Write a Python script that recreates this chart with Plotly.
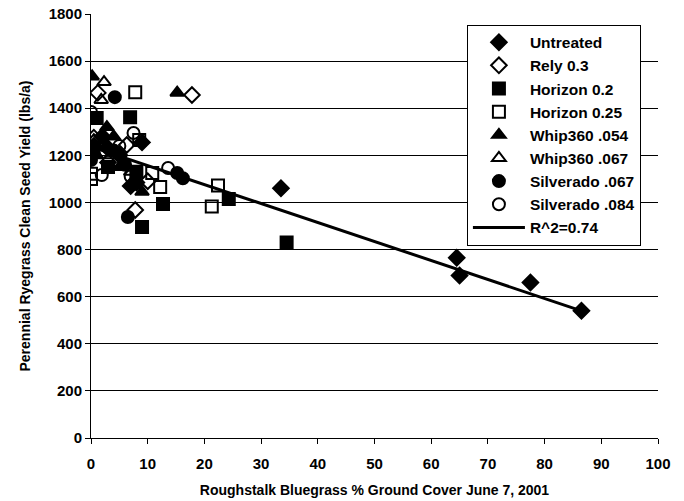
import plotly.graph_objects as go

# Roughstalk bluegrass ground cover (%) vs. perennial ryegrass clean seed yield (lbs/a)
untreated_x = [0.5, 2.0, 3.0, 5.0, 7.0, 8.0, 9.0, 33.5, 64.5, 65.0, 77.5, 86.5]
untreated_y = [1240, 1280, 1230, 1200, 1070, 1085, 1255, 1060, 765, 690, 660, 540]

rely_x = [1.2, 17.8, 6.3, 7.8, 0.5, 3.0, 10.0]
rely_y = [1465, 1456, 1244, 968, 1275, 1170, 1090]

horizon02_x = [1.0, 6.9, 3.0, 9.0, 12.7, 24.3, 34.5, 8.0]
horizon02_y = [1358, 1362, 1150, 896, 993, 1015, 830, 1130]

horizon025_x = [7.8, 0.0, 0.0, 10.8, 12.2, 22.4, 21.3, 8.5]
horizon025_y = [1468, 1100, 1122, 1125, 1066, 1072, 983, 1265]

whip054_x = [0.2, 15.2, 2.8, 9.0, 5.0, 1.0, 4.0]
whip054_y = [1535, 1466, 1320, 1045, 1150, 1200, 1280]

whip067_x = [2.3, 1.8, 0.5, 3.5, 7.0]
whip067_y = [1511, 1435, 1265, 1200, 1130]

silv067_x = [4.2, 16.2, 15.2, 6.5, 0.0, 0.5, 4.0, 6.0]
silv067_y = [1447, 1103, 1125, 938, 1180, 1210, 1220, 1160]

silv084_x = [0.0, 7.5, 13.6, 1.9, 0.0, 7.0, 5.0]
silv084_y = [1384, 1295, 1146, 1116, 1220, 1110, 1240]

# Linear trend line endpoints
trend_x = [0.0, 86.5]
trend_y = [1237, 540]
trend_label = "R^2=0.74"

x_ticks = list(range(0, 101, 10))
y_ticks = list(range(0, 1801, 200))

series = [
    ("Untreated", untreated_x, untreated_y, "diamond"),
    ("Rely 0.3", rely_x, rely_y, "diamond-open"),
    ("Horizon 0.2", horizon02_x, horizon02_y, "square"),
    ("Horizon 0.25", horizon025_x, horizon025_y, "square-open"),
    ("Whip360 .054", whip054_x, whip054_y, "triangle-up"),
    ("Whip360 .067", whip067_x, whip067_y, "triangle-up-open"),
    ("Silverado .067", silv067_x, silv067_y, "circle"),
    ("Silverado .084", silv084_x, silv084_y, "circle-open"),
]

fig = go.Figure()
for name, xs, ys, sym in series:
    fig.add_trace(go.Scatter(
        x=xs, y=ys, mode="markers", name=name,
        marker=dict(symbol=sym, size=12, color="black",
                    line=dict(color="black", width=2)),
    ))

fig.add_trace(go.Scatter(
    x=trend_x, y=trend_y, mode="lines", name=trend_label,
    line=dict(color="black", width=3),
))

font_family = "Liberation Sans, Arial, sans-serif"
bold = dict(family=font_family, weight="bold", color="black")

fig.update_layout(
    width=684, height=501,
    margin=dict(l=91, r=26, t=14, b=63),
    paper_bgcolor="white", plot_bgcolor="white",
    font=dict(family=font_family, size=14, color="black"),
    legend=dict(
        x=0.663, y=0.975, xanchor="left", yanchor="top",
        bgcolor="white", bordercolor="black", borderwidth=1,
        font=dict(size=15.5, **bold), tracegroupgap=0, itemwidth=52,
    ),
    xaxis=dict(
        range=[0, 100], tickvals=x_ticks, showgrid=False, zeroline=False,
        showline=True, linecolor="black", linewidth=1, automargin=False,
        ticks="outside", ticklen=5, tickcolor="black",
        tickfont=dict(size=15, **bold), ticklabelstandoff=7,
        title=dict(text="Roughstalk Bluegrass % Ground Cover June 7, 2001",
                   font=dict(size=14, **bold), standoff=14),
    ),
    yaxis=dict(
        range=[0, 1800], tickvals=y_ticks, showgrid=True,
        gridcolor="black", gridwidth=1, zeroline=False,
        showline=True, linecolor="black", linewidth=1, automargin=False,
        ticks="outside", ticklen=5, tickcolor="black",
        tickfont=dict(size=15, **bold),
        title=dict(text="Perennial Ryegrass Clean Seed Yield (lbs/a)",
                   font=dict(size=14, **bold), standoff=14),
    ),
)

fig.write_html("out.html")
